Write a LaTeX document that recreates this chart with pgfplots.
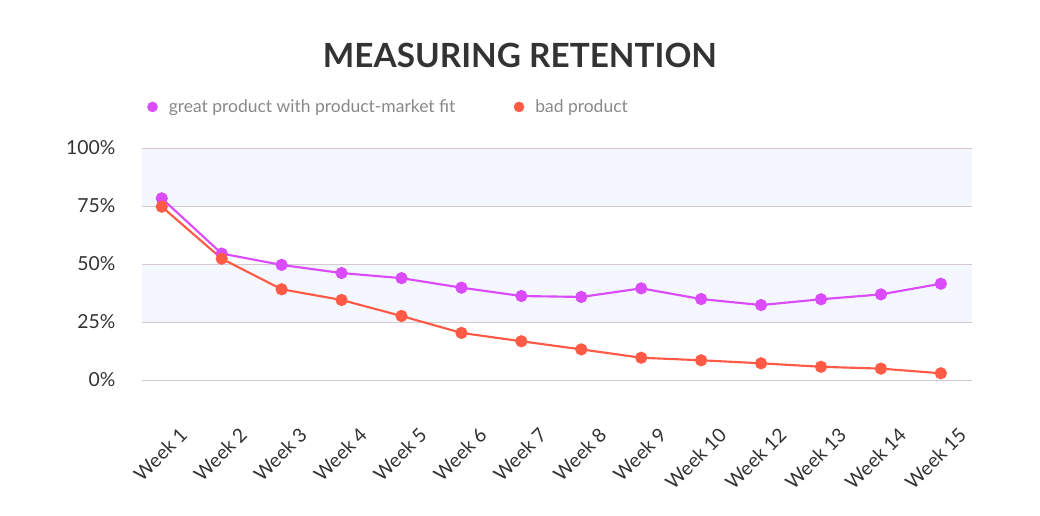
\documentclass[border=0pt]{standalone}
\usepackage{fontspec}
\setmainfont{Lato}
\usepackage{pgfplots}
\pgfplotsset{compat=1.18}
\definecolor{purp}{HTML}{DA4BFA}
\definecolor{redo}{HTML}{FF5A46}
\definecolor{band}{HTML}{F4F7FE}
\definecolor{gridc}{HTML}{D3C8CE}
\definecolor{tickc}{HTML}{333333}
\definecolor{legc}{HTML}{888888}
\begin{document}
\begin{tikzpicture}
\begin{axis}[
  at={(0,0)}, anchor=south west,
  set layers=standard,
  scale only axis,
  width=622.5pt, height=174pt,
  xmin=-0.33, xmax=13.52, ymin=0, ymax=100,
  xtick={0,...,13},
  xticklabels={Week 1,Week 2,Week 3,Week 4,Week 5,Week 6,Week 7,Week 8,Week 9,Week 10,Week 12,Week 13,Week 14,Week 15},
  ytick={0,25,50,75,100},
  yticklabels={0\%,25\%,50\%,75\%,100\%},
  ymajorgrids, grid style={gridc, line width=0.75pt},
  axis line style={draw=none},
  major tick length=0pt,
  tick label style={font=\fontsize{14.5}{17}\selectfont, text=tickc},
  yticklabel style={anchor=east, xshift=-16.5pt},
  xticklabel style={xshift=18.75pt, yshift=-36pt, rotate=45, anchor=east},
  clip=false,
  legend columns=2,
  legend style={draw=none, fill=none, at={(0.006,1.177)}, anchor=west, inner sep=0pt,
    font=\fontsize{13.1}{15}\selectfont, text=legc,
    nodes={inner sep=0pt},
    /tikz/every odd column/.append style={column sep=8.25pt},
    /tikz/every even column/.append style={column sep=0pt}},
  legend image code/.code={\fill[#1] (0pt,0pt) circle (3.75pt);},
]
\addplot[fill=band, draw=none, on layer=axis background, forget plot] coordinates {(-0.33,75) (13.52,75) (13.52,100) (-0.33,100)} -- cycle;
\addplot[fill=band, draw=none, on layer=axis background, forget plot] coordinates {(-0.33,25) (13.52,25) (13.52,50) (-0.33,50)} -- cycle;
\addplot[purp, line width=1.6pt, mark=*, mark size=3.75pt, forget plot] coordinates {
(0,78.3) (1,54.5) (2,49.6) (3,46.1) (4,43.9) (5,39.8) (6,36.2) (7,35.8) (8,39.5) (9,34.9) (10,32.3) (11,34.8) (12,36.9) (13,41.5)};
\addplot[redo, line width=1.6pt, mark=*, mark size=3.75pt, forget plot] coordinates {
(0,74.7) (1,52.3) (2,39.1) (3,34.5) (4,27.6) (5,20.3) (6,16.7) (7,13.2) (8,9.6) (9,8.5) (10,7.2) (11,5.7) (12,4.9) (13,2.9)};
\addlegendimage{purp, fill=purp}
\addlegendentry{\makebox[258.75pt][l]{great product with product-market fit}}
\addlegendimage{redo, fill=redo}
\addlegendentry{bad product}
\end{axis}
\node[font=\fontsize{25}{30}\selectfont\bfseries, text=tickc] at (283.5pt,243.75pt) {MEASURING RETENTION};
\pgfresetboundingbox
\useasboundingbox (-106.5pt,-101.25pt) rectangle (673.5pt,285pt);
\end{tikzpicture}
\end{document}
